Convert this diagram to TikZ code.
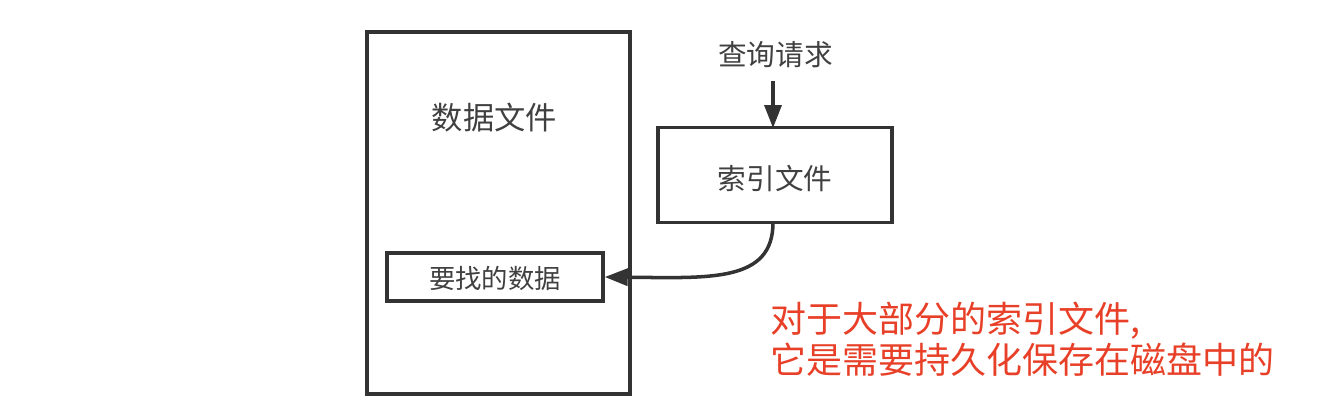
\documentclass[tikz,border=0pt]{standalone}
\usepackage{fontspec}
\setmainfont{Noto Sans CJK SC}
\usetikzlibrary{arrows.meta, positioning}

\definecolor{linegray}{RGB}{51,51,51}
\definecolor{textgray}{RGB}{64,64,64}
\definecolor{notered}{RGB}{232,64,40}

\tikzset{
  filebox/.style={draw=linegray, line width=2pt, rectangle, inner sep=0pt},
  label/.style={text=textgray, inner sep=0pt},
  flow/.style={draw=linegray, line width=2pt, -{Triangle[length=0.46cm, width=0.34cm]}}
}

\begin{document}
\begin{tikzpicture}
 \useasboundingbox (0, 0) rectangle (26.44, -8.28);
 % data file with the record we look for
 \node[filebox, minimum width=5.26cm, minimum height=7.24cm] (datafile) at (9.97, -4.26) {};
 \node[label, font=\fontsize{17.8}{20}\selectfont] (datalabel) at (9.89, -2.36) {数据文件};
 \node[filebox, minimum width=4.32cm, minimum height=0.96cm] (record) at (9.9, -5.54) {};
 \node[label, font=\fontsize{15}{18}\selectfont] (recordlabel) at (9.9, -5.57) {要找的数据};
 % index file
 \node[filebox, minimum width=4.68cm, minimum height=1.9cm] (index) at (15.5, -3.5) {};
 \node[label, font=\fontsize{16.3}{19}\selectfont] (indexlabel) at (15.5, -3.58) {索引文件};
 \node[label, font=\fontsize{16.3}{19}\selectfont] (query) at (15.51, -1.1) {查询请求};
 \coordinate (qin) at (15.46, -2.56);
 \coordinate (qout) at (15.46, -4.45);
 \draw[flow] (query.south -| qin) ++(0, -0.24) -- (qin);
 \draw[flow] (qout) .. controls (15.46, -5.65) and (14.2, -5.56) .. (record.east);
 % note
 \node[text=notered, anchor=north west, align=left, inner sep=0pt,
       font=\fontsize{20.5}{23.2}\selectfont] (note) at (15.4, -6.04)
   {对于大部分的索引文件,\\它是需要持久化保存在磁盘中的};
\end{tikzpicture}
\end{document}
